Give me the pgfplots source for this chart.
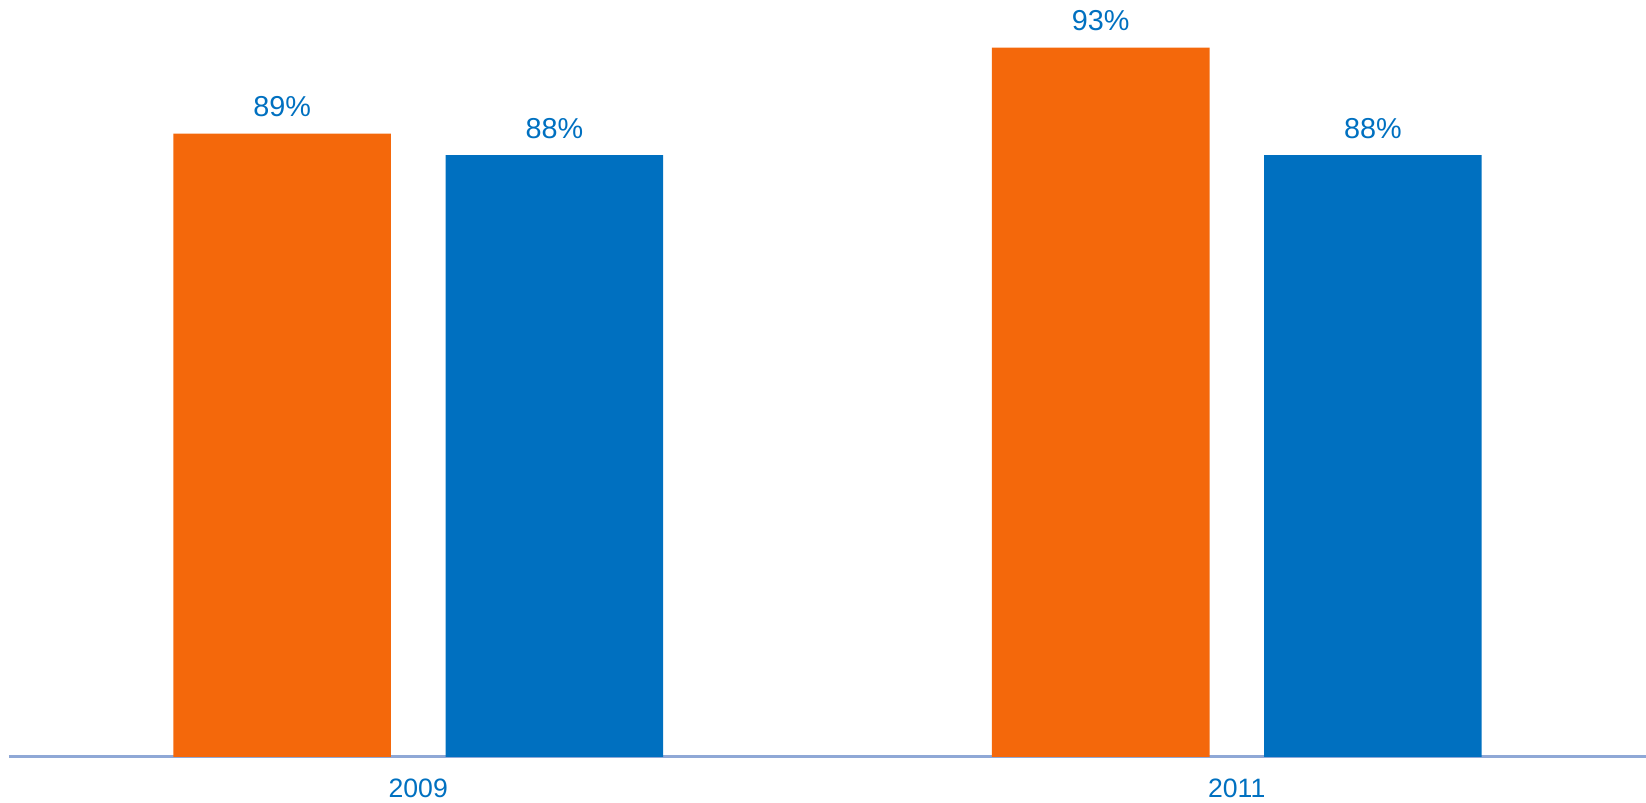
\documentclass[border=0pt]{standalone}
\usepackage{pgfplots}
\pgfplotsset{compat=1.18}
\usepackage{fontspec}
\setmainfont{Liberation Sans}
\definecolor{barorange}{HTML}{F4680B}
\definecolor{barblue}{HTML}{0070C0}
\definecolor{axisline}{HTML}{8FA8D6}
\begin{document}
\begin{tikzpicture}
\begin{axis}[name=ax,
  /pgf/number format/assume math mode=true,
  scale only axis, width=818.5pt, height=378.5pt,
  ybar, bar width=0.266,
  xmin=-0.5, xmax=1.5, ymin=60, ymax=95.21,
  axis y line=none, axis x line*=bottom,
  x axis line style={axisline, line width=1.5pt, -},
  xtick={0,1}, xticklabels={2009,2011},
  major tick length=0,
  xticklabel style={anchor=base, yshift=-20.5pt, text=barblue, font=\fontsize{13.3}{16}\selectfont},
  nodes near coords={\pgfmathprintnumber[fixed,precision=0]{\pgfplotspointmeta}\%},
  nodes near coords align={anchor=base},
  every node near coord/.append style={yshift=8.5pt, text=barblue, font=\fontsize{14.4}{17}\selectfont},
  clip=false,
]
\addplot[fill=barorange, draw=none, bar shift=-0.1663] coordinates {(0,89) (1,93)};
\addplot[fill=barblue, draw=none, bar shift=0.1663] coordinates {(0,88) (1,88)};
\end{axis}
\pgfresetboundingbox
\path[use as bounding box] ([shift={(-4.5pt,-23pt)}]ax.south west) rectangle (ax.north east);
\end{tikzpicture}
\end{document}
